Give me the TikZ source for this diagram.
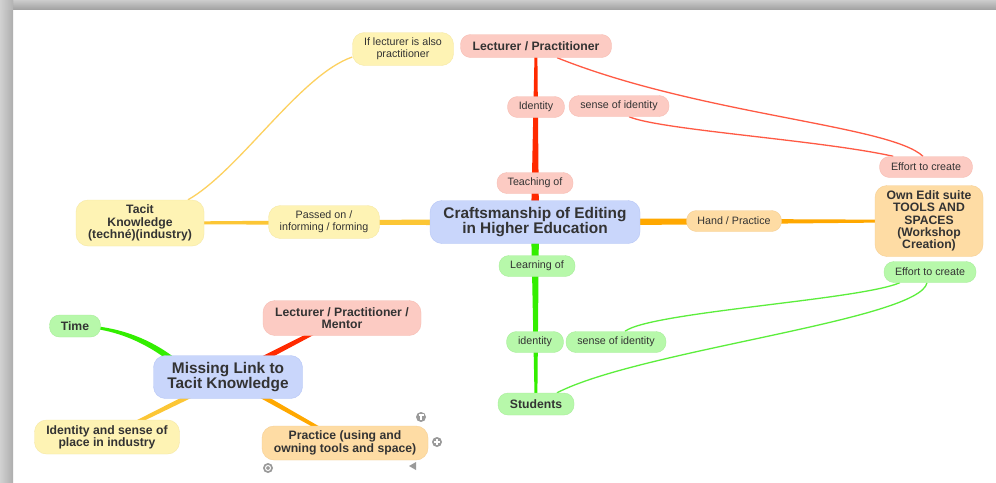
\documentclass[tikz,border=0pt]{standalone}
\usepackage{fontspec}
\setmainfont{Liberation Sans}
\usetikzlibrary{calc,backgrounds}
\definecolor{txt}{HTML}{333333}
\definecolor{pinkf}{HTML}{FCCBC3}\definecolor{pinkd}{HTML}{F7BDB3}
\definecolor{bluef}{HTML}{C9D6FB}\definecolor{blued}{HTML}{B6C6F6}
\definecolor{yelf}{HTML}{FEF3B4}\definecolor{yeld}{HTML}{F6E8A4}
\definecolor{orf}{HTML}{FEDCA4}\definecolor{ord}{HTML}{F6CF94}
\definecolor{grf}{HTML}{B7F8AA}\definecolor{grd}{HTML}{A8EE9A}
\definecolor{redl}{HTML}{FF2A00}\definecolor{redt}{HTML}{FF5A44}
\definecolor{grl}{HTML}{33EE00}\definecolor{grt}{HTML}{5CEE3C}
\definecolor{yell}{HTML}{FCC635}\definecolor{yelt}{HTML}{FDD160}
\definecolor{orl}{HTML}{FFA800}
\definecolor{icon}{HTML}{9A9A9A}
\newcommand{\mytaper}[5]{%
  \fill[#5] ($(#1.center)!#3!90:(#2.center)$) -- ($(#2.center)!#4!-90:(#1.center)$)
   -- ($(#2.center)!#4!90:(#1.center)$) -- ($(#1.center)!#3!-90:(#2.center)$) -- cycle;}
\tikzset{
  box/.style={rounded corners=10pt, align=center, inner sep=0pt, text=txt},
  sm/.style={box, font=\fontsize{10.7}{12}\selectfont, minimum height=21pt},
  md/.style={box, font=\fontsize{12.2}{12.3}\selectfont\bfseries},
  bg/.style={box, rounded corners=12pt, font=\fontsize{15.4}{15.5}\selectfont\bfseries},
  pk/.style={fill=pinkf, draw=pinkd},
  bl/.style={fill=bluef, draw=blued},
  ye/.style={fill=yelf, draw=yeld},
  og/.style={fill=orf, draw=ord},
  gr/.style={fill=grf, draw=grd},
  thin/.style={line width=1.3pt},
  ic/.style={circle, fill=icon, minimum size=10pt, inner sep=0pt}
}
\begin{document}
\begin{tikzpicture}[x=1pt,y=-1pt]
\useasboundingbox (0,0) rectangle (996,482);
% nodes
\node[bg,bl,minimum width=210pt,minimum height=43pt] (cen) at (535,222) {Craftsmanship of Editing\\in Higher Education};
\node[md,pk,minimum width=151pt,minimum height=23pt] (lp) at (536,46) {Lecturer / Practitioner};
\node[sm,pk,minimum width=57pt] (id1) at (536,107) {Identity};
\node[sm,pk,minimum width=100pt] (soi1) at (619,106) {sense of identity};
\node[sm,pk,minimum width=76pt] (teach) at (535,183) {Teaching of};
\node[sm,pk,minimum width=93pt] (ef1) at (926,167) {Effort to create};
\node[md,og,rounded corners=12pt,minimum width=108pt,minimum height=71pt] (own) at (929,221) {Own Edit suite\\TOOLS AND\\SPACES\\(Workshop\\Creation)};
\node[sm,og,minimum width=95pt] (hand) at (734,221) {Hand / Practice};
\node[sm,ye,rounded corners=12pt,minimum width=111pt,minimum height=33pt] (pass) at (324,222) {Passed on /\\informing / forming};
\node[md,ye,rounded corners=12pt,minimum width=128pt,minimum height=46pt] (tk) at (140,223) {Tacit\\Knowledge\\(techné)(industry)};
\node[sm,ye,rounded corners=12pt,minimum width=101pt,minimum height=33pt] (il) at (403,49) {If lecturer is also\\practitioner};
\node[sm,gr,minimum width=76pt] (learn) at (537,266) {Learning of};
\node[sm,gr,minimum width=92pt] (ef2) at (930,272) {Effort to create};
\node[sm,gr,minimum width=57pt] (id2) at (535,342) {identity};
\node[sm,gr,minimum width=100pt] (soi2) at (616,342) {sense of identity};
\node[md,gr,minimum width=76pt,minimum height=22pt] (stu) at (536,404) {Students};
\node[bg,bl,minimum width=149pt,minimum height=43pt] (ml) at (228,377) {Missing Link to\\Tacit Knowledge};
\node[md,gr,minimum width=51pt,minimum height=22pt] (time) at (75,326) {Time};
\node[md,pk,rounded corners=12pt,minimum width=158pt,minimum height=35pt] (lpm) at (342,318) {Lecturer / Practitioner /\\Mentor};
\node[md,ye,rounded corners=12pt,minimum width=145pt,minimum height=34pt] (isp) at (107,437) {Identity and sense of\\place in industry};
\node[md,og,rounded corners=12pt,minimum width=166pt,minimum height=34pt] (prac) at (345,443) {Practice (using and\\owning tools and space)};
% small icons
\node[ic] (i1) at (421,417) {};
\draw[white,line width=1.2pt] ($(i1)+(-2.5,-2)$) -- ($(i1)+(2.5,-2)$) ($(i1)+(0,-2)$) -- ($(i1)+(0,3)$);
\node[ic] (i2) at (437,442) {};
\draw[white,line width=1.2pt] ($(i2)+(-3,0)$) -- ($(i2)+(3,0)$) ($(i2)+(0,-3)$) -- ($(i2)+(0,3)$);
\node[ic] (i3) at (268,468) {};
\draw[white,line width=1pt] (i3) circle (2.5pt);
\fill[icon] (409,466) -- (416,462) -- (416,470) -- cycle;
% background
\begin{pgfonlayer}{background}
\fill[white] (0,0) rectangle (996,482);
\shade[top color=black!20, bottom color=black!36] (0,0) rectangle (996,9);
\shade[left color=black!18, right color=black!32] (0,0) rectangle (13,482);
\shade[left color=black!18, right color=black!30] (0,0) rectangle (13,9);
% thick branches
\mytaper{cen}{lp}{4pt}{1.3pt}{redl}
\mytaper{cen}{stu}{4pt}{1.3pt}{grl}
\mytaper{cen}{tk}{3.3pt}{1.2pt}{yell}
\mytaper{cen}{own}{4pt}{1.1pt}{orl}
\mytaper{ml}{lpm}{3.2pt}{1.6pt}{redl}
\mytaper{ml}{prac}{2.8pt}{1.5pt}{orl}
\mytaper{ml}{isp}{2.8pt}{1.5pt}{yell}
\fill[grl] ($(ml.center)+(-40,-8)$) .. controls ($(ml.center)+(-70,-36)$) and ($(time.center)+(45,-1)$) .. ($(time.center)+(0,-1)$)
  -- ($(time.center)+(0,1.2)$) .. controls ($(time.center)+(45,2)$) and ($(ml.center)+(-72,-30)$) .. ($(ml.center)+(-40,0)$) -- cycle;
% thin connectors
\draw[thin,yelt] ($(tk.north)+(48,0)$) .. controls (240,170) and (300,75) .. ($(il.west)+(0,8)$);
\draw[thin,redt] ($(lp.south)+(21,0)$) .. controls (700,115) and (890,125) .. ($(ef1.north)+(-3,0)$);
\draw[thin,redt] ($(soi1.south)+(10,0)$) .. controls (660,130) and (820,140) .. ($(ef1.north west)+(14,0)$);
\draw[thin,grt] ($(soi2.north)+(9,0)$) .. controls (650,312) and (860,300) .. ($(ef2.south west)+(16,0)$);
\draw[thin,grt] ($(stu.north)+(21,0)$) .. controls (640,350) and (920,320) .. ($(ef2.south)+(-3,0)$);
\end{pgfonlayer}
\end{tikzpicture}
\end{document}
